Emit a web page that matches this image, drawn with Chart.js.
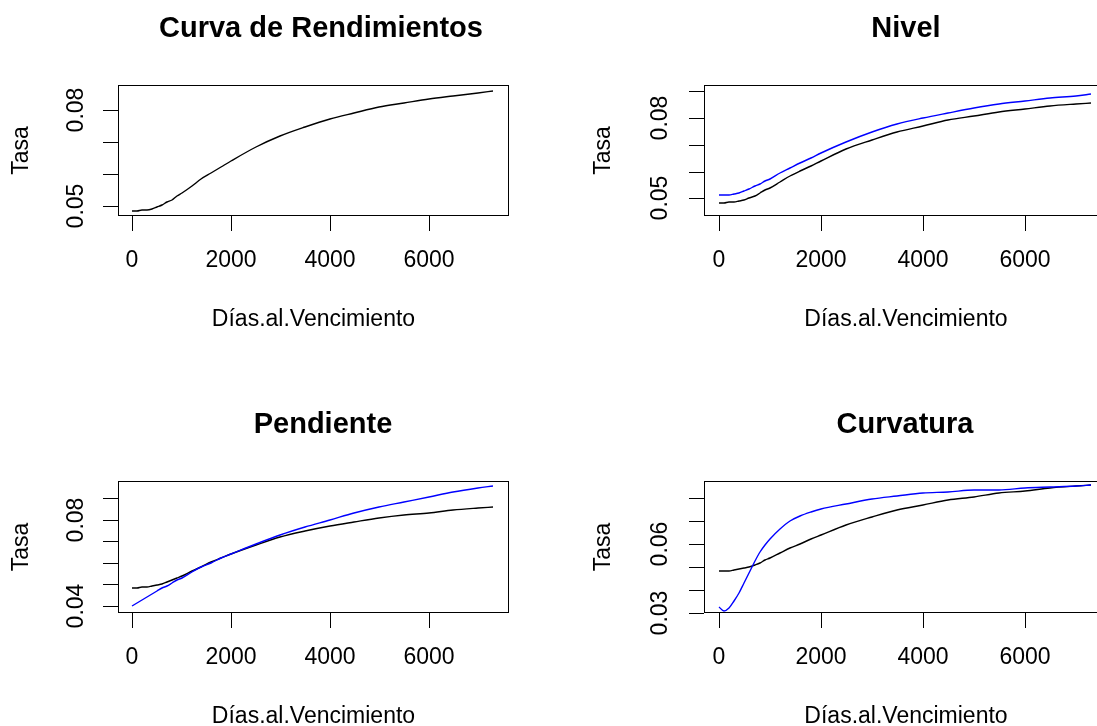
<!DOCTYPE html>
<html lang="es">
<head>
<meta charset="utf-8">
<title>Curva de Rendimientos</title>
<script src="https://cdn.jsdelivr.net/npm/chart.js@4.4.1/dist/chart.umd.min.js"></script>
<style>
    html, body { margin: 0; padding: 0; background: #ffffff; }
    body { width: 1097px; height: 726px; overflow: hidden; position: relative; }
    .panel { position: absolute; }
    .panel canvas { display: block; }
</style>
</head>
<body>
<div class="panel"><canvas id="chartCurva"></canvas></div>
<div class="panel"><canvas id="chartNivel"></canvas></div>
<div class="panel"><canvas id="chartPendiente"></canvas></div>
<div class="panel"><canvas id="chartCurvatura"></canvas></div>

<script>
// --- DATOS ---
const diasVencimiento = [0, 100, 200, 300, 400, 500, 600, 700, 800, 900, 1000, 1200, 1400, 1600, 1800,
    2000, 2500, 3000, 3500, 4000, 4500, 5000, 5500, 6000, 6500, 7000, 7300];

const tasaObservada = [0.0484, 0.0484, 0.0485, 0.0487, 0.0490, 0.0495, 0.0502, 0.0510, 0.0519, 0.0529, 0.0540,
    0.0561, 0.0582, 0.0602, 0.0621, 0.0640, 0.0683, 0.0718, 0.0747, 0.0771, 0.0791, 0.0807, 0.0821,
    0.0833, 0.0844, 0.0853, 0.0858];

const tasaNivel = [0.0512, 0.0512, 0.0514, 0.0517, 0.0521, 0.0527, 0.0535, 0.0544, 0.0553, 0.0563, 0.0573,
    0.0594, 0.0614, 0.0633, 0.0652, 0.0670, 0.0711, 0.0746, 0.0778, 0.0801, 0.0820, 0.0837, 0.0851,
    0.0864, 0.0874, 0.0884, 0.0891];

const tasaPendiente = [0.0398, 0.0413, 0.0427, 0.0441, 0.0455, 0.0468, 0.0481, 0.0494, 0.0506, 0.0518, 0.0530,
    0.0555, 0.0578, 0.0600, 0.0621, 0.0641, 0.0688, 0.0730, 0.0767, 0.0801, 0.0832, 0.0859, 0.0884,
    0.0908, 0.0929, 0.0947, 0.0958];

const tasaCurvatura = [0.0328, 0.0308, 0.0323, 0.0352, 0.0389, 0.0430, 0.0475, 0.0526, 0.0566, 0.0598, 0.0622,
    0.0664, 0.0700, 0.0724, 0.0740, 0.0752, 0.0777, 0.0797, 0.0812, 0.0822, 0.0828, 0.0834, 0.0838,
    0.0843, 0.0848, 0.0855, 0.0858];

// ticks y etiquetas
const ticksDias = [0, 2000, 4000, 6000];
const ticksTasaCurva = [0.05, 0.06, 0.07, 0.08];
const etiquetasTasaCurva = ['0.05', '0.08'];
const ticksTasaNivel = [0.05, 0.06, 0.07, 0.08, 0.09];
const etiquetasTasaNivel = ['0.05', '0.08'];
const ticksTasaPendiente = [0.04, 0.05, 0.06, 0.07, 0.08, 0.09];
const etiquetasTasaPendiente = ['0.04', '0.08'];
const ticksTasaCurvatura = [0.03, 0.04, 0.05, 0.06, 0.07, 0.08];
const etiquetasTasaCurvatura = ['0.03', '0.06'];

// --- ESTILO ---
const FUENTE = '"Liberation Sans", Arial, sans-serif';
const NEGRO = '#000000';
const AZUL = '#0000ff';
const ALTO_EJE_X = 150;

// marco tipo R + titulo principal
const marcoYTitulo = {
    id: 'marcoYTitulo',
    afterDraw(chart, args, opts) {
        const { ctx, chartArea: a } = chart;
        ctx.save();
        ctx.strokeStyle = NEGRO;
        ctx.lineWidth = 1;
        ctx.strokeRect(a.left + 0.5, a.top + 0.5, a.right - a.left - 1, a.bottom - a.top - 1);
        ctx.fillStyle = NEGRO;
        ctx.font = 'bold 29px ' + FUENTE;
        ctx.textAlign = 'center';
        ctx.textBaseline = 'alphabetic';
        ctx.fillText(opts.texto, opts.x, a.top - 48);
        ctx.restore();
    }
};

function serie(valores) {
    return diasVencimiento.map((d, i) => ({ x: d, y: valores[i] }));
}

function crearPanel(cfg) {
    const canvas = document.getElementById(cfg.id);
    const wrap = canvas.parentElement;
    const w = cfg.ancho;
    const h = cfg.caja.b - cfg.top + ALTO_EJE_X;
    wrap.style.left = cfg.left + 'px';
    wrap.style.top = cfg.top + 'px';
    canvas.width = w; canvas.height = h;
    canvas.style.width = w + 'px'; canvas.style.height = h + 'px';

    const area = { l: cfg.caja.l - cfg.left, t: cfg.caja.t - cfg.top, r: cfg.caja.r - cfg.left, b: cfg.caja.b - cfg.top };

    const datasets = [];
    if (cfg.ajustada) {
        datasets.push({ data: serie(cfg.ajustada), borderColor: AZUL, borderWidth: 1.4 });
    }
    datasets.push({ data: serie(tasaObservada), borderColor: NEGRO, borderWidth: 1.4 });
    datasets.forEach(ds => { ds.pointRadius = 0; ds.fill = false; ds.cubicInterpolationMode = 'monotone'; });

    const gridR = { display: true, drawOnChartArea: false, drawTicks: true, tickLength: 15, tickColor: NEGRO, tickWidth: 1 };

    new Chart(canvas, {
        type: 'line',
        data: { datasets },
        options: {
            responsive: false,
            animation: false,
            devicePixelRatio: 1,
            layout: { padding: { top: area.t, right: w - area.r, left: 0, bottom: 0 } },
            plugins: {
                legend: { display: false },
                tooltip: { enabled: false },
                marcoYTitulo: { texto: cfg.titulo, x: cfg.tituloX - cfg.left }
            },
            scales: {
                x: {
                    type: 'linear', min: -290, max: 7630,
                    alignToPixels: true,
                    afterFit: s => { s.height = h - area.b; },
                    afterBuildTicks: s => { s.ticks = ticksDias.map(v => ({ value: v })); },
                    grid: gridR,
                    border: { display: false },
                    ticks: { color: NEGRO, font: { family: FUENTE, size: 23 }, padding: 16, maxRotation: 0, autoSkip: false,
                        callback: v => String(v) },
                    title: { display: true, text: 'Días.al.Vencimiento', color: NEGRO, font: { family: FUENTE, size: 23 },
                        padding: { top: 0, bottom: 33 } }
                },
                y: {
                    type: 'linear', min: cfg.rangoY[0], max: cfg.rangoY[1],
                    alignToPixels: true,
                    afterFit: s => { s.width = area.l; },
                    afterBuildTicks: s => { s.ticks = cfg.ticksY.map(v => ({ value: v })); },
                    grid: gridR,
                    border: { display: false },
                    ticks: { color: NEGRO, font: { family: FUENTE, size: 23 }, padding: cfg.padTickY,
                        minRotation: 90, maxRotation: 90, crossAlign: 'center', autoSkip: false,
                        callback: v => cfg.etiquetasY.includes(v.toFixed(2)) ? v.toFixed(2) : '' },
                    title: { display: true, text: 'Tasa', color: NEGRO, font: { family: FUENTE, size: 23 },
                        padding: { top: cfg.padTituloY, bottom: 0 } }
                }
            }
        },
        plugins: [marcoYTitulo]
    });
}

// --- PANELES ---
crearPanel({ id: 'chartCurva', titulo: 'Curva de Rendimientos', tituloX: 321,
    left: 0, top: 0, ancho: 548, caja: { l: 118, t: 85, r: 509, b: 216 },
    rangoY: [0.04678, 0.08772], ticksY: ticksTasaCurva, etiquetasY: etiquetasTasaCurva,
    padTickY: 4, padTituloY: 8 });

crearPanel({ id: 'chartNivel', titulo: 'Nivel', tituloX: 906, ajustada: tasaNivel,
    left: 548, top: 0, ancho: 565, caja: { l: 704, t: 85, r: 1108, b: 216 },
    rangoY: [0.04336, 0.09235], ticksY: ticksTasaNivel, etiquetasY: etiquetasTasaNivel,
    padTickY: 6, padTituloY: 42 });

crearPanel({ id: 'chartPendiente', titulo: 'Pendiente', tituloX: 323, ajustada: tasaPendiente,
    left: 0, top: 363, ancho: 548, caja: { l: 118, t: 481, r: 509, b: 613 },
    rangoY: [0.0366, 0.09805], ticksY: ticksTasaPendiente, etiquetasY: etiquetasTasaPendiente,
    padTickY: 4, padTituloY: 8 });

crearPanel({ id: 'chartCurvatura', titulo: 'Curvatura', tituloX: 905, ajustada: tasaCurvatura,
    left: 548, top: 363, ancho: 565, caja: { l: 704, t: 481, r: 1108, b: 613 },
    rangoY: [0.03, 0.08754], ticksY: ticksTasaCurvatura, etiquetasY: etiquetasTasaCurvatura,
    padTickY: 6, padTituloY: 42 });
</script>
</body>
</html>
